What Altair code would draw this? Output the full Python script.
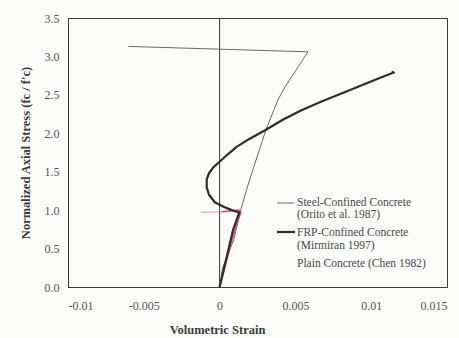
import altair as alt
import pandas as pd

# Steel-confined concrete (Orito et al. 1987)
steel_x = [0.0, 0.0002, 0.0006, 0.00093, 0.00139, 0.0018, 0.00225, 0.00265, 0.00305, 0.00345,
           0.00384, 0.0043, 0.0049, 0.0054, 0.00583, -0.006]
steel_y = [0.0, 0.25, 0.45, 0.61, 1.00, 1.28, 1.56, 1.80, 2.04, 2.24,
           2.43, 2.60, 2.78, 2.93, 3.06, 3.13]

# FRP-confined concrete (Mirmiran 1997)
frp_x = [0.0, 0.0003, 0.0006, 0.0009, 0.0013, 0.0008, 0.0003, -0.0003, -0.0007, -0.00085,
         -0.00085, -0.0007, -0.0004, 0.0, 0.0005, 0.0011, 0.0019, 0.003, 0.0042, 0.0054,
         0.0068, 0.0082, 0.0097, 0.0108, 0.0115, 0.0114]
frp_y = [0.0, 0.25, 0.5, 0.75, 0.97, 1.0, 1.04, 1.1, 1.2, 1.3,
         1.4, 1.48, 1.56, 1.63, 1.72, 1.82, 1.92, 2.04, 2.18, 2.3,
         2.42, 2.53, 2.65, 2.74, 2.79, 2.795]

# Plain concrete (Chen 1982)
plain_x = [0.0, 0.0004, 0.0008, 0.0012, 0.0014, 0.0013, 0.0008, 0.0002]
plain_y = [0.0, 0.3, 0.6, 0.87, 0.97, 1.0, 0.99, 0.98]
plain_tail_x = [0.0002, -0.0006, -0.0012]
plain_tail_y = [0.98, 0.975, 0.97]

x_ticks = [-0.01, -0.005, 0, 0.005, 0.01, 0.015]
y_ticks = [0.0, 0.5, 1.0, 1.5, 2.0, 2.5, 3.0, 3.5]

legend_lines = ["Steel-Confined Concrete", "(Orito et al. 1987)",
                "FRP-Confined Concrete", "(Mirmiran 1997)",
                "Plain Concrete (Chen 1982)"]

FONT = "Liberation Serif, Times New Roman, serif"
INK = "#3a3a3a"


def frame(xs, ys):
    return pd.DataFrame({"x": xs, "y": ys, "o": list(range(len(xs)))})


xscale = alt.Scale(domain=[-0.01, 0.015], nice=False, zero=False)
yscale = alt.Scale(domain=[0, 3.5], nice=False)

xaxis = alt.Axis(values=x_ticks,
                 labelExpr="datum.value == 0 ? '0' : replace(format(datum.value, '~g'), '\u2212', '-')",
                 ticks=False, grid=False, domain=True, domainColor=INK, labelPadding=13,
                 labelFont=FONT, labelFontSize=12, labelColor="#555",
                 title="Volumetric Strain", titleFont=FONT, titleFontSize=12.5,
                 titleFontWeight="bold", titleColor=INK, titleX=149, titleY=42,
                 titleBaseline="middle", titleAlign="center")
yaxis = alt.Axis(values=y_ticks, format=".1f", ticks=False, grid=False, domain=True,
                 domainColor=INK, labelPadding=9, labelFont=FONT, labelFontSize=12,
                 labelColor="#555", title="Normalized Axial Stress (fc / f'c)",
                 titleFont=FONT, titleFontSize=12.5, titleFontWeight="bold",
                 titleColor=INK, titlePadding=12)

zero_df = pd.DataFrame({"x": [0.0]})
zero = alt.Chart(zero_df).mark_rule(color=INK, strokeWidth=1).encode(
    x=alt.X("x:Q", scale=xscale, axis=xaxis))


def series(xs, ys, color, width, opacity=1.0):
    return alt.Chart(frame(xs, ys)).mark_line(
        color=color, strokeWidth=width, opacity=opacity, interpolate="linear",
        strokeJoin="round", strokeCap="round"
    ).encode(
        x=alt.X("x:Q", scale=xscale, axis=xaxis),
        y=alt.Y("y:Q", scale=yscale, axis=yaxis),
        order="o:Q",
    )


steel = series(steel_x, steel_y, "#6a6a6a", 1.0)
plain = series(plain_x, plain_y, "#e8407a", 1.8, 0.9)
plain_tail = series(plain_tail_x, plain_tail_y, "#e8407a", 1.2, 0.45)
frp = series(frp_x, frp_y, "#2e2e2e", 2.2)

leg_y = [185, 197, 215, 228, 246]
texts = []
for label, py in zip(legend_lines, leg_y):
    texts.append(
        alt.Chart(pd.DataFrame({"t": [label]})).mark_text(
            align="left", baseline="middle", font=FONT, fontSize=11.5, color="#4a4a4a"
        ).encode(x=alt.value(229), y=alt.value(py), text="t:N")
    )

leg_thin = alt.Chart(pd.DataFrame({"a": [0]})).mark_rule(color="#6a6a6a", strokeWidth=1).encode(
    x=alt.value(209), x2=alt.value(226), y=alt.value(185))
leg_thick = alt.Chart(pd.DataFrame({"a": [0]})).mark_rule(color="#2e2e2e", strokeWidth=2.2).encode(
    x=alt.value(209), x2=alt.value(227), y=alt.value(214))

chart = alt.layer(zero, steel, plain_tail, plain, frp, leg_thin, leg_thick, *texts).properties(
    width=379, height=269,
    autosize=alt.AutoSizeParams(type="none"),
    padding={"left": 68, "top": 18, "right": 12, "bottom": 51},
    background="#fcfcfa",
).configure_view(stroke=INK, strokeWidth=1)

chart.save("out.html", embed_options={"renderer": "svg", "actions": False})
